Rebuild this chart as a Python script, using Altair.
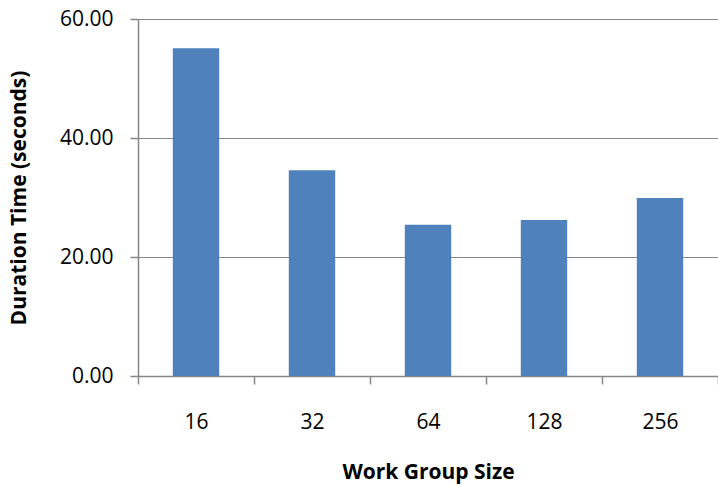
import altair as alt
import pandas as pd

sizes = ["16", "32", "64", "128", "256"]
durations = [55.1, 34.6, 25.4, 26.2, 29.9]
y_ticks = [0, 20, 40, 60]

df = pd.DataFrame({"size": sizes, "duration": durations})

GRAY = "#868686"
FONT = "Open Sans"

chart = alt.Chart(df).mark_bar(
    color="#4F81BD", width=alt.RelativeBandSize(0.4)
).encode(
    x=alt.X(
        "size:N",
        sort=sizes,
        scale=alt.Scale(paddingInner=0, paddingOuter=0),
        axis=alt.Axis(
            title="Work Group Size",
            labelAngle=0,
            tickBand="extent",
            grid=False,
            domainColor=GRAY,
            domainWidth=1.5,
            tickColor=GRAY,
            tickWidth=1.5,
            tickSize=8,
            labelPadding=27,
            labelFont=FONT,
            labelFontSize=21,
            labelColor="#000000",
            titleFont=FONT,
            titleFontSize=21,
            titleFontWeight="bold",
            titleColor="#000000",
            titleY=102,
            titleBaseline="alphabetic",
        ),
    ),
    y=alt.Y(
        "duration:Q",
        scale=alt.Scale(domain=[0, 60], nice=False),
        axis=alt.Axis(
            title="Duration Time (seconds)",
            values=y_ticks,
            format=".2f",
            grid=True,
            gridColor=GRAY,
            gridWidth=1.2,
            domainColor=GRAY,
            domainWidth=1.5,
            tickColor=GRAY,
            tickWidth=1.5,
            tickSize=8,
            labelPadding=17,
            labelFont=FONT,
            labelFontSize=21,
            labelColor="#000000",
            titleFont=FONT,
            titleFontSize=21,
            titleFontWeight="bold",
            titleColor="#000000",
            titleX=-113,
            titleY=178.5,
            titleAngle=270,
            titleAlign="center",
            titleBaseline="alphabetic",
        ),
    ),
).properties(
    width=580,
    height=357,
    padding={"left": 138, "top": 19, "right": 0, "bottom": 111},
    autosize=alt.AutoSizeParams(type="none"),
).configure_view(stroke=None)

chart.save("out.html", embed_options={"renderer": "svg", "actions": False})
